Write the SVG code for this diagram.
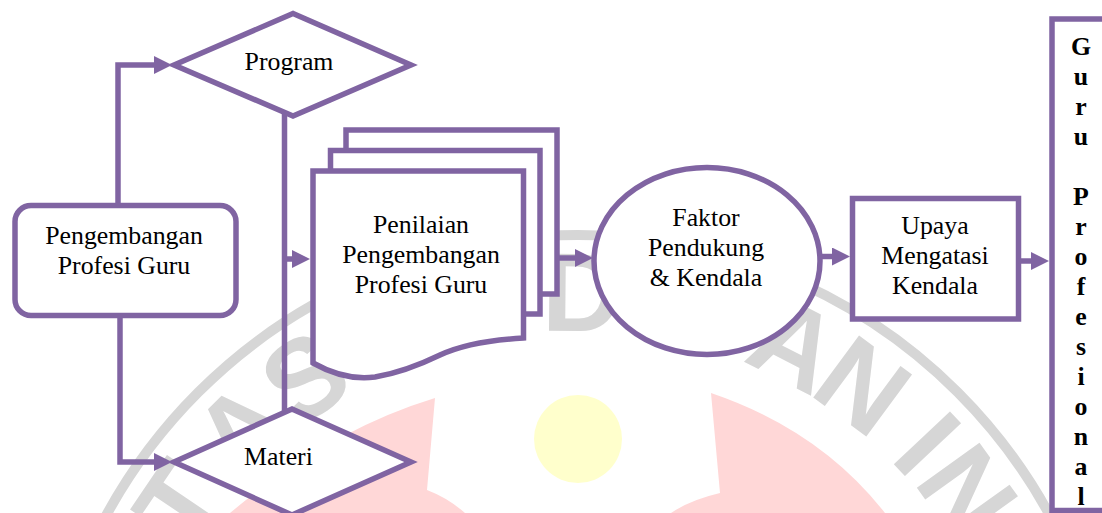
<svg xmlns="http://www.w3.org/2000/svg" width="1102" height="513" viewBox="0 0 1102 513">
<defs>
<style>
.n{fill:#ffffff;stroke:#8064a2;stroke-width:5.5}
.c{fill:none;stroke:#8064a2;stroke-width:5.5}
.t{font-family:"Liberation Serif","Times New Roman",serif;font-size:25.8px;fill:#000000;text-anchor:middle}
.b{font-weight:bold}
.wm{font-family:"Liberation Sans",Arial,sans-serif;font-weight:bold;font-size:112px;fill:#d6d6d6;text-anchor:middle}
</style>
<marker id="ah" markerUnits="userSpaceOnUse" markerWidth="18" markerHeight="18" refX="8" refY="9" orient="auto"><path d="M0,0 L18,9 L0,18 Z" fill="#8064a2"/></marker>
</defs>
<rect width="1102" height="513" fill="#ffffff"/>
<g id="watermark">
<path d="M435,398 L427,490 Q448,498 465,513 L230,513 Q330,430 435,398 Z" fill="#ffd7d7"/>
<path d="M711,393 L720,493 Q690,500 671,513 L885,513 Q820,430 711,393 Z" fill="#ffd7d7"/>
<circle cx="578" cy="439" r="44" fill="#ffffcc"/>
<circle cx="578" cy="772" r="537" fill="none" stroke="#d6d6d6" stroke-width="10"/>
<text class="wm" x="578" y="331" transform="rotate(-56 578 772)">T</text>
<text class="wm" x="578" y="331" transform="rotate(-44.5 578 772)">A</text>
<text class="wm" x="578" y="331" transform="rotate(-34.7 578 772)">S</text>
<text class="wm" x="578" y="331" transform="rotate(0.5 578 772)">D</text>
<text class="wm" x="578" y="331" transform="rotate(26.9 578 772)">A</text>
<text class="wm" x="578" y="331" transform="rotate(36.4 578 772)">N</text>
<text class="wm" x="578" y="331" transform="rotate(46.8 578 772)">I</text>
<text class="wm" x="578" y="331" transform="rotate(54.3 578 772)">N</text>
</g>
<g id="program">
<polygon class="n" points="174,65 293,13.5 411,65 293,116"/>
<text class="t" x="289" y="69.5">Program</text>
</g>
<g id="materi">
<polygon class="n" points="174,462 292,409 411,462 292,515"/>
<text class="t" x="278.5" y="465">Materi</text>
</g>
<g id="pengembangan">
<rect class="n" x="15" y="205.5" width="221" height="110" rx="16"/>
<text class="t"><tspan x="124" y="244">Pengembangan</tspan><tspan x="124" y="274">Profesi Guru</tspan></text>
</g>
<g id="penilaian">
<rect class="n" x="346" y="130" width="211" height="164"/>
<rect class="n" x="330.5" y="150.5" width="209.5" height="163.5"/>
<path class="n" d="M313,171 L523.5,171 L523.5,338 Q470,341 440,355 Q405,372 375,377 Q345,381 313,363 Z"/>
<text class="t"><tspan x="421" y="232.5">Penilaian</tspan><tspan x="421" y="262.5">Pengembangan</tspan><tspan x="421" y="292.5">Profesi Guru</tspan></text>
</g>
<g id="faktor">
<ellipse class="n" cx="707" cy="261" rx="113" ry="93.5"/>
<text class="t"><tspan x="706" y="226">Faktor</tspan><tspan x="706" y="256">Pendukung</tspan><tspan x="706" y="286">&amp; Kendala</tspan></text>
</g>
<g id="upaya">
<rect class="n" x="852.5" y="198.5" width="166" height="120.5"/>
<text class="t"><tspan x="935" y="234">Upaya</tspan><tspan x="935" y="264">Mengatasi</tspan><tspan x="935" y="294">Kendala</tspan></text>
</g>
<g id="guru">
<rect class="n" x="1052" y="19" width="60" height="491.5"/>
<text class="t b"><tspan x="1081" y="55">G</tspan><tspan x="1081" y="85">u</tspan><tspan x="1081" y="115">r</tspan><tspan x="1081" y="145">u</tspan><tspan x="1081" y="205">P</tspan><tspan x="1081" y="235">r</tspan><tspan x="1081" y="265">o</tspan><tspan x="1081" y="295">f</tspan><tspan x="1081" y="325">e</tspan><tspan x="1081" y="355">s</tspan><tspan x="1081" y="385">i</tspan><tspan x="1081" y="415">o</tspan><tspan x="1081" y="445">n</tspan><tspan x="1081" y="475">a</tspan><tspan x="1081" y="505">l</tspan></text>
</g>
<g id="connectors">
<path class="c" d="M118,205.5 V65 H162" marker-end="url(#ah)"/>
<path class="c" d="M120,315.5 V462 H162" marker-end="url(#ah)"/>
<path class="c" d="M284.5,113 V413"/>
<path class="c" d="M284.5,259 H300" marker-end="url(#ah)"/>
<path class="c" d="M557,258 H583" marker-end="url(#ah)"/>
<path class="c" d="M820,256.5 H840" marker-end="url(#ah)"/>
<path class="c" d="M1018.5,261 H1039" marker-end="url(#ah)"/>
</g>
</svg>
